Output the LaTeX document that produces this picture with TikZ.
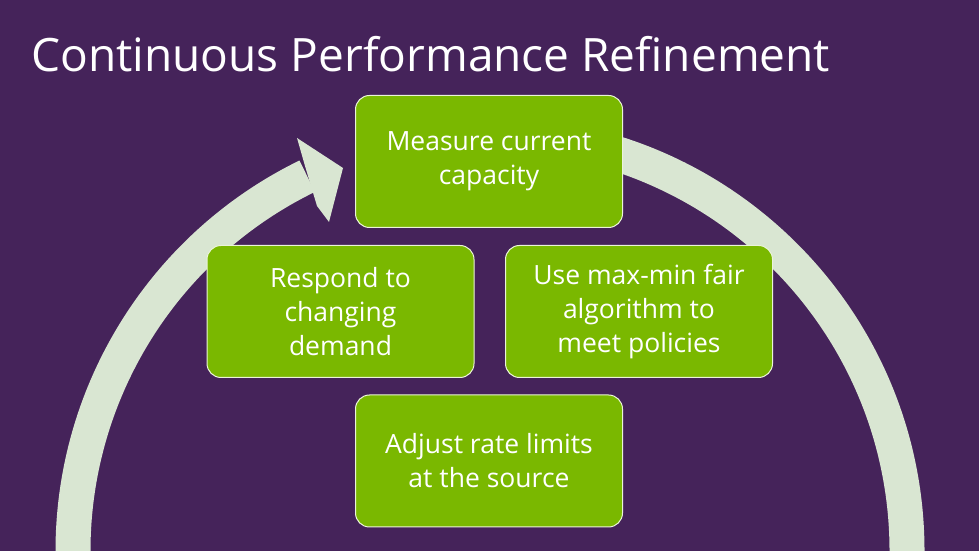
\documentclass[tikz,border=0pt]{standalone}
\usepackage{fontspec}
\setmainfont{Open Sans}
\definecolor{bg}{HTML}{45235A}
\definecolor{boxg}{HTML}{7AB800}
\definecolor{arc}{HTML}{D9E6D2}
\begin{document}
\begin{tikzpicture}[x=1pt,y=1pt,
  stepbox/.style={draw=white!85!boxg,line width=1pt,fill=boxg,rounded corners=14pt,minimum width=267pt,minimum height=132pt,text=white,align=center,font=\fontsize{26.5}{34}\selectfont,anchor=center}]
\fill[bg] (0,0) rectangle (979,551);
\useasboundingbox (0,0) rectangle (979,551);
\coordinate (C) at (490,0);
\draw[arc,line width=35pt] ([shift={(180:417)}]C) arc[start angle=180,end angle=116,radius=417];
\draw[arc,line width=35pt] ([shift={(86:417)}]C) arc[start angle=86,end angle=-1,radius=417];
\fill[arc] (297,413) -- (343,383) -- (329,329) -- (317,345) -- (305,385) -- cycle;
\node[anchor=west,text=white,font=\fontsize{46}{55}\selectfont] (title) at (28,497) {Continuous Performance Refinement};
\node[stepbox] (top) at (489,389.5) {Measure current\\capacity};
\node[stepbox] (left) at (340.5,239.5) {Respond to\\changing\\demand};
\node[stepbox] (right) at (639,239.5) {Use max-min fair\\algorithm to\\meet policies};
\node[stepbox] (bot) at (489,90) {Adjust rate limits\\at the source};
\end{tikzpicture}
\end{document}
